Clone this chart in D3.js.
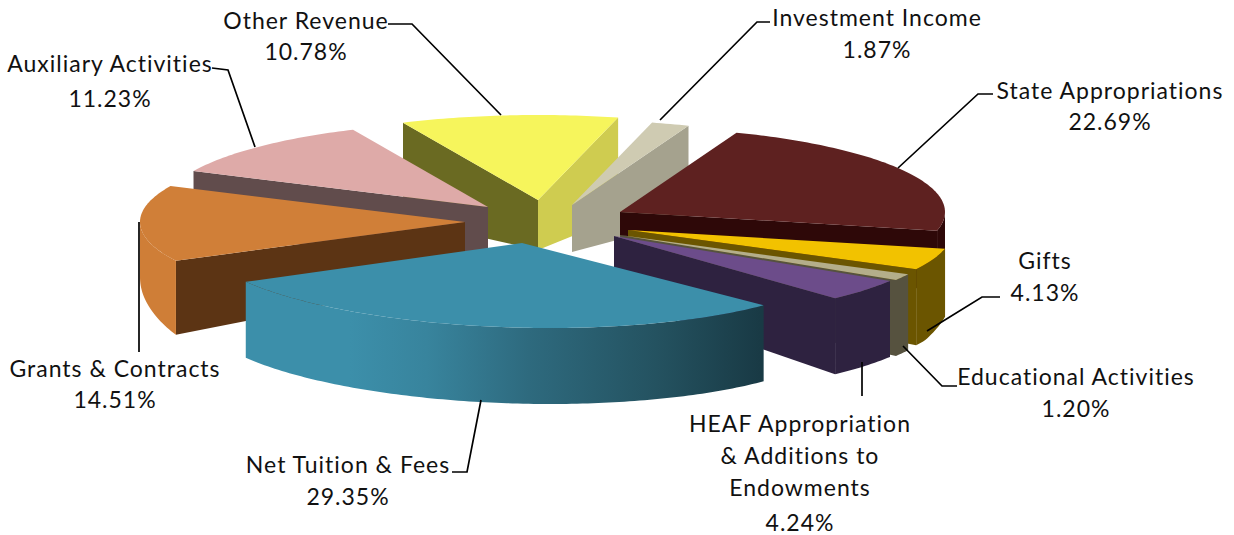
<!DOCTYPE html>
<html>
<head>
<meta charset="utf-8">
<script src="https://cdn.jsdelivr.net/npm/d3@7"></script>
<style>
	html, body { margin: 0; padding: 0; background: #fff; }
	svg { display: block; }
	text { font-family: Lato, "Open Sans", sans-serif; font-size: 23px; letter-spacing: 1px; fill: #111; text-anchor: middle; }
</style>
</head>
<body>
<div id="chart"></div>
<script>
// values, clockwise from the top
var categories = ["State Appropriations", "Gifts", "Educational Activities", "HEAF Appropriation & Additions to Endowments",
	"Net Tuition & Fees", "Grants & Contracts", "Auxiliary Activities", "Other Revenue", "Investment Income"];
var shares = [22.69, 4.13, 1.20, 4.24, 29.35, 14.51, 11.23, 10.78, 1.87];

// colours per slice: top, outer wall, start cut, end cut
var topColors   = ["#5E2120", "#F2C200", "#B4AE8A", "#6C4C8A", "#3C8FAA", "#D07F38", "#DEAAA8", "#F6F55C", "#CFCBB2"];
var rimColors   = ["#2E0808", "#6B5500", "#56523F", "#2E2240", "url(#netWall)", "#CF7E37", "#614C4C", "#6A6A22", "#A5A28E"];
var startColors = ["#2E0808", "#6B5500", "#56523F", "#2E2240", "#3C8FAA", "#5C3414", "#614C4C", "#6A6A22", "#A5A28E"];
var endColors   = ["#2E0808", "#6B5500", "#56523F", "#2E2240", "#3C8FAA", "#5C3414", "#614C4C", "#CFCC50", "#A5A28E"];

// where each exploded slice has its tip, and the lean of the front one
var tipX = [620, 628, 620, 614, 522, 465, 488, 538, 572];
var tipY = [212, 230, 235, 236, 243, 222, 207, 200, 205];
var lean = [0, 0, 0, 0, 0.33, 0, 0, 0, 0];

var width = 1234, height = 535;
var firstAngle = 21 * Math.PI / 180;

var xRadius = d3.scaleLinear().domain([-1, 1]).range([-325, 325]);
var yRadius = d3.scaleLinear().domain([-1, 1]).range([85, -85]);
// wall height by screen y
var wallDepth = d3.scaleLinear().domain([118, 205, 265]).range([100, 47, 76]).clamp(true);

var svg = d3.select("#chart").append("svg").attr("width", width).attr("height", height);

var grad = svg.append("defs").append("linearGradient").attr("id", "netWall")
	.attr("gradientUnits", "userSpaceOnUse")
	.attr("x1", 247).attr("x2", 760).attr("y1", 0).attr("y2", 0);
grad.selectAll("stop")
	.data([[0, "#3C8FAA"], [0.2, "#3C8FAA"], [0.35, "#38849D"], [0.55, "#2E6A7E"], [0.8, "#245260"], [1, "#193A45"]])
	.enter().append("stop")
	.attr("offset", function(d){ return d[0]; })
	.attr("stop-color", function(d){ return d[1]; });

var pie = d3.pie().sort(null).startAngle(firstAngle).endAngle(firstAngle + 2 * Math.PI);
var slices = pie(shares).map(function(d, i){
	return { i: i, a0: d.startAngle, a1: d.endAngle, mid: (d.startAngle + d.endAngle) / 2 };
});

var line = d3.line();

function rimPoint(s, a){
	var dy = yRadius(Math.cos(a));
	return [tipX[s.i] + xRadius(Math.sin(a)) + lean[s.i] * dy, tipY[s.i] + dy];
}
function drop(p){
	return [p[0], p[1] + wallDepth(p[1])];
}
function angles(a0, a1){
	var n = Math.max(2, Math.ceil((a1 - a0) * 60));
	return d3.range(n + 1).map(function(k){ return a0 + (a1 - a0) * k / n; });
}
function cutWall(s, a){
	var tip = [tipX[s.i], tipY[s.i]], p = rimPoint(s, a);
	return line([tip, p, drop(p), drop(tip)]) + "Z";
}

var layer = svg.append("g").attr("class", "pie-layer");

// back to front
slices.slice().sort(function(a, b){ return Math.cos(b.mid) - Math.cos(a.mid); }).forEach(function(s){
	var g = layer.append("g").attr("class", "slice");

	if (Math.sin(s.a0) < 0)
		g.append("path").attr("d", cutWall(s, s.a0)).attr("fill", startColors[s.i]);
	if (Math.sin(s.a1) > 0)
		g.append("path").attr("d", cutWall(s, s.a1)).attr("fill", endColors[s.i]);

	// only the part of the rim that faces the viewer, a turn runs 90..270 degrees
	var from = Math.max(s.a0, Math.PI / 2), to = Math.min(s.a1, 3 * Math.PI / 2);
	if (to > from){
		var rim = angles(from, to).map(function(a){ return rimPoint(s, a); });
		g.append("path")
			.attr("d", line(rim.concat(rim.slice().reverse().map(drop))) + "Z")
			.attr("fill", rimColors[s.i]);
	}

	var top = [[tipX[s.i], tipY[s.i]]].concat(angles(s.a0, s.a1).map(function(a){ return rimPoint(s, a); }));
	g.append("path").attr("d", line(top) + "Z").attr("fill", topColors[s.i]);
});

// labels and leader lines, same order as categories
var labelLines = [["State Appropriations"], ["Gifts"], ["Educational Activities"], ["HEAF Appropriation", "& Additions to", "Endowments"],
	["Net Tuition & Fees"], ["Grants & Contracts"], ["Auxiliary Activities"], ["Other Revenue"], ["Investment Income"]];
var labelX = [1110, 1045, 1076, 800, 348, 115, 110, 306, 877];
var labelY = [[99, 130], [269, 301], [385, 417], [432, 464, 496, 531], [473, 505], [377, 408], [72, 107], [29, 60], [26, 58]];
var leaders = [
	[[993, 94], [978, 94], [898, 168]],
	[[1000, 297], [982, 297], [927, 331]],
	[[957, 386], [942, 386], [903, 346]],
	[[862, 396], [862, 362]],
	[[452, 472], [467, 472], [481, 400]],
	[[139, 352], [139, 222]],
	[[212, 68], [228, 70], [255, 147]],
	[[388, 24], [412, 24], [501, 115]],
	[[770, 22], [757, 22], [660, 120]]
];

svg.append("g").attr("class", "leaders").selectAll("path")
	.data(leaders).enter().append("path")
	.attr("d", function(d){ return line(d); })
	.attr("fill", "none").attr("stroke", "#000").attr("stroke-width", 1.7);

categories.forEach(function(c, i){
	var g = svg.append("g").attr("class", "label");
	var rows = labelLines[i].concat([shares[i].toFixed(2) + "%"]);
	rows.forEach(function(r, k){
		g.append("text").attr("x", labelX[i]).attr("y", labelY[i][k]).text(r);
	});
});
</script>
</body>
</html>
